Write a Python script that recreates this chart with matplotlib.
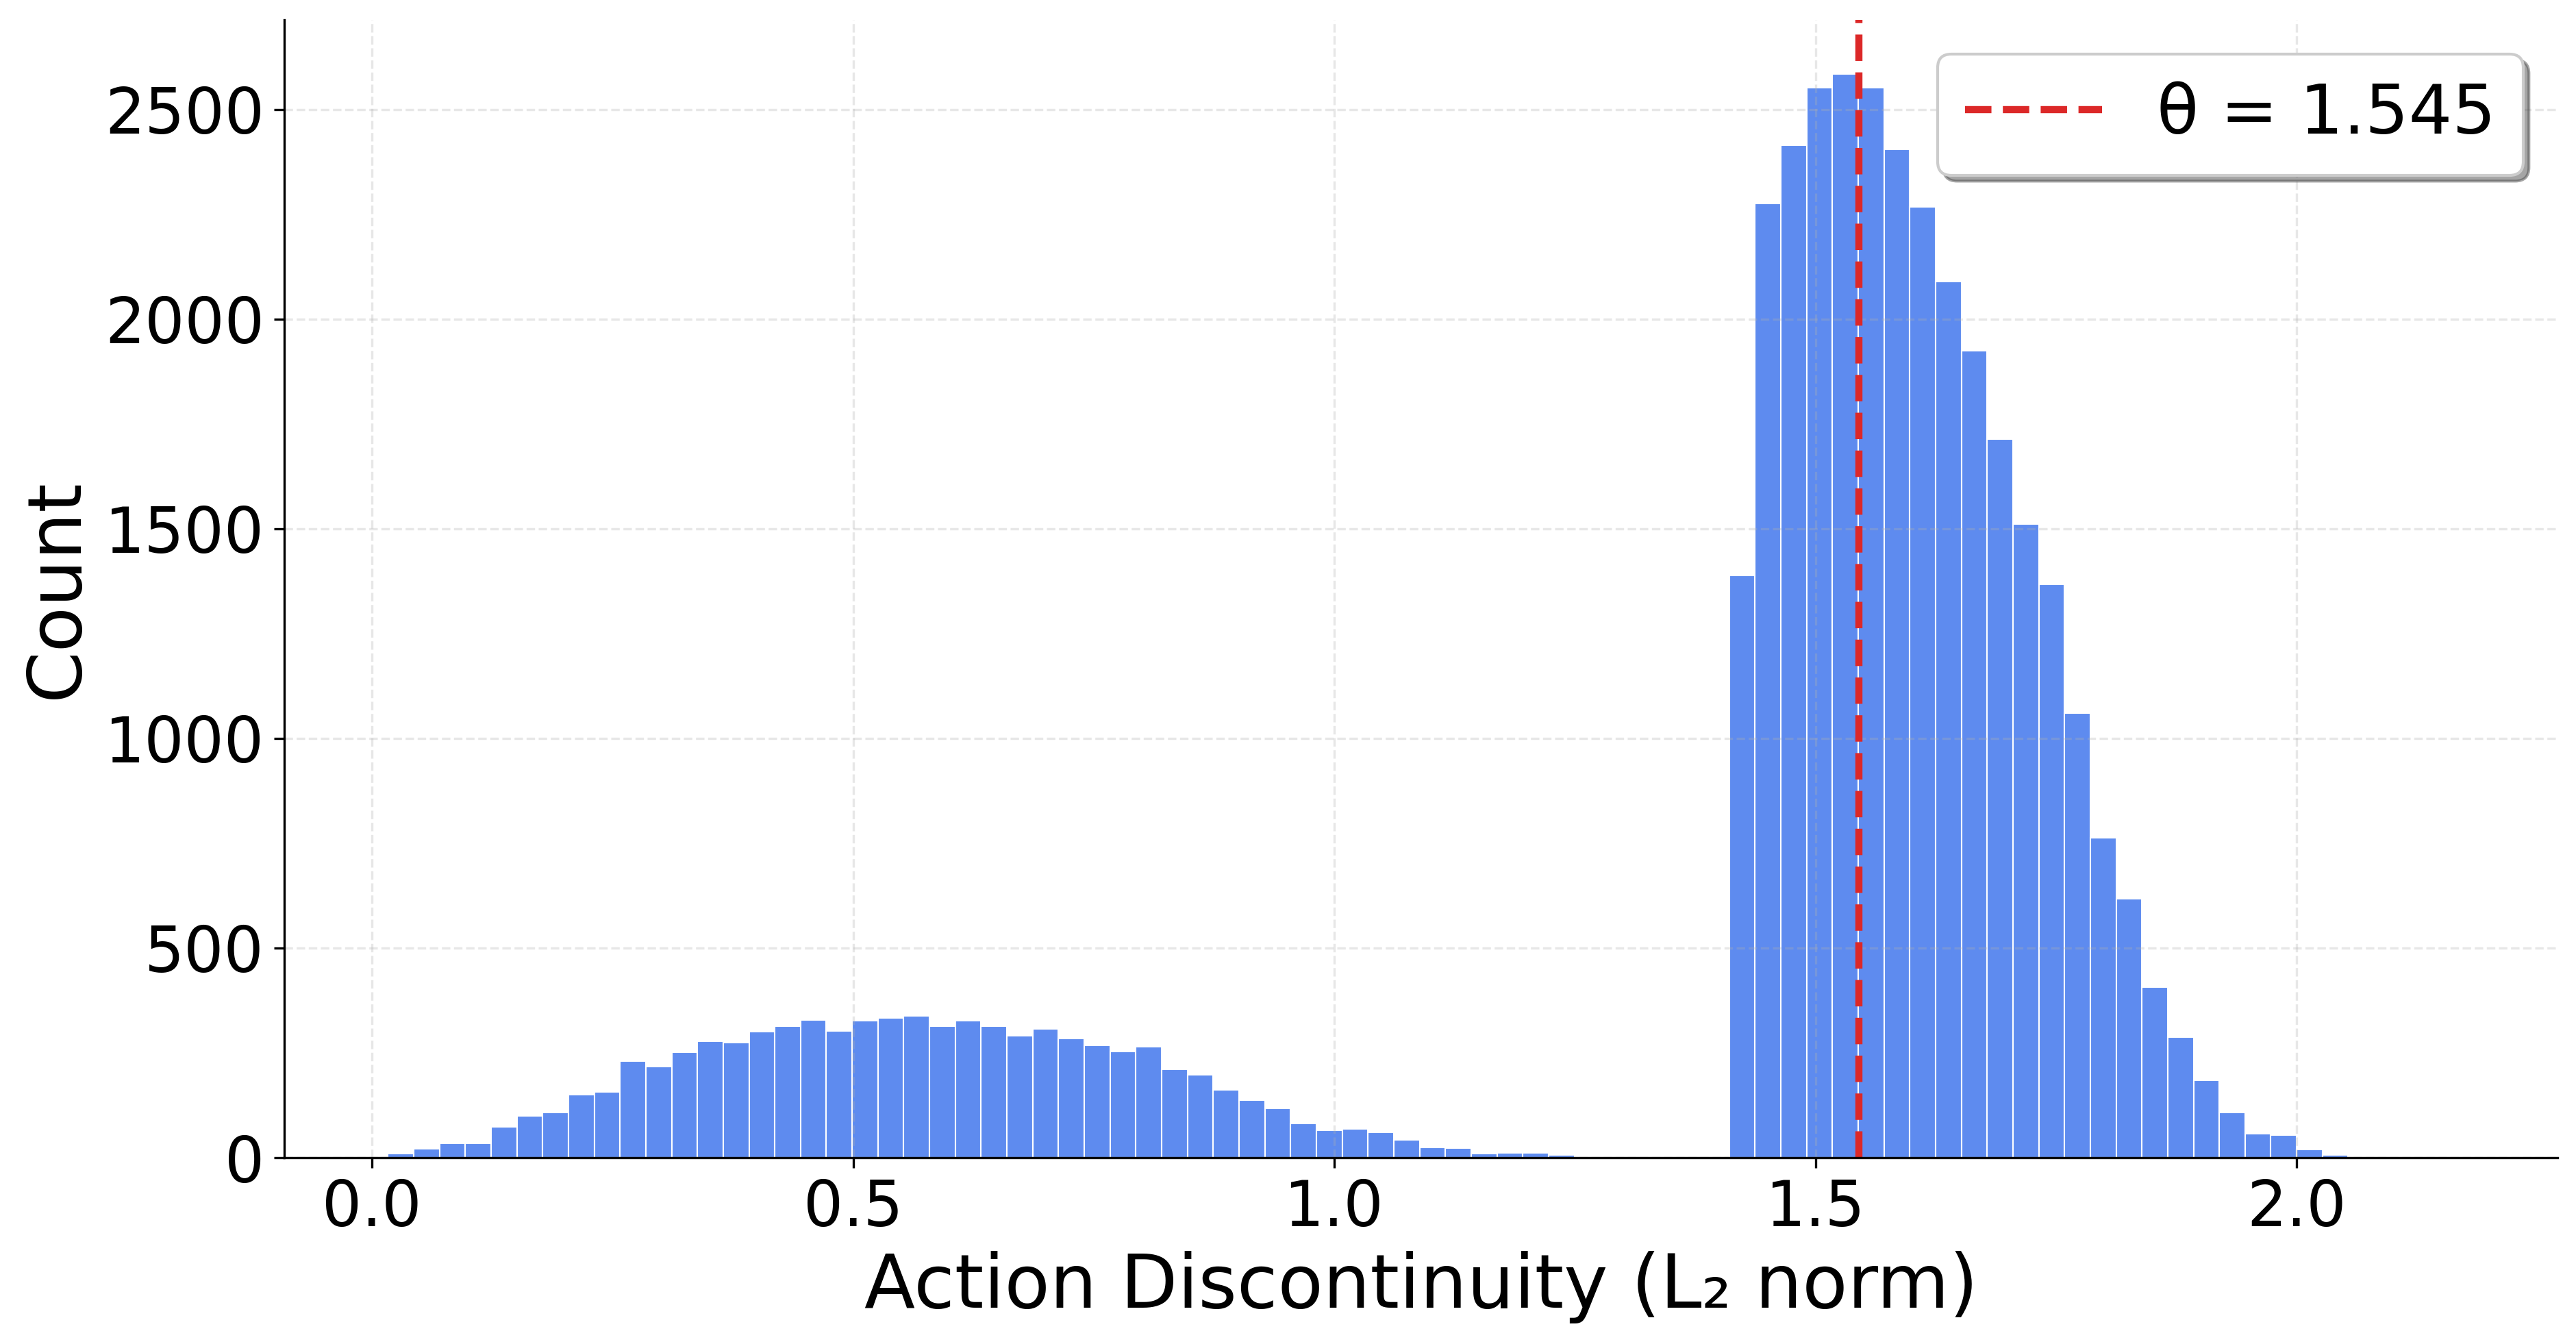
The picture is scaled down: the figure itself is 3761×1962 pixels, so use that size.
#! /usr/bin/env python3

# Histogram of action discontinuity with the threshold line.

import matplotlib
matplotlib.use('Agg')
import matplotlib.pyplot as plt
import numpy as np

# histogram bins
bin_lo = 0.0165
bin_hi = 2.0536
n_bins = 76

low_mode = [10, 22, 35, 35, 74, 100, 108, 151, 157, 231, 218, 252, 278, 275,
            301, 314, 329, 303, 326, 334, 339, 314, 326, 314, 291, 308, 285,
            268, 254, 265, 211, 197, 162, 138, 118, 82, 66, 69, 61, 43, 25,
            23, 10, 12, 12, 7]
gap = [0, 0, 0, 0, 0, 0]
high_mode = [1389, 2276, 2414, 2551, 2584, 2552, 2404, 2267, 2090, 1925,
             1713, 1511, 1367, 1061, 763, 618, 407, 287, 184, 108, 57, 54,
             20, 7]
counts = low_mode + gap + high_mode

theta = 1.545
x_limits = (-0.091, 2.271)


def main():
    edges = np.linspace(bin_lo, bin_hi, n_bins + 1)

    fig = plt.figure(figsize=(3761 / 300, 1962 / 300), dpi=300)
    ax = fig.add_axes([0.1104, 0.1386, 0.9928 - 0.1104, 0.9852 - 0.1386])

    ax.hist(edges[:-1], bins=edges, weights=counts, color='#5e8bef',
            edgecolor='white', linewidth=0.5)
    ax.axvline(theta, color='#dc2828', linestyle='--', linewidth=2.5,
               label=f'θ = {theta}')

    ax.set_xlim(*x_limits)
    ax.grid(True, linestyle='--', alpha=0.3)
    ax.spines['top'].set_visible(False)
    ax.spines['right'].set_visible(False)
    ax.tick_params(labelsize=22)

    ax.set_xlabel('Action Discontinuity (L₂ norm)', fontsize=26)
    ax.set_ylabel('Count', fontsize=26)
    ax.legend(loc='upper right', fontsize=24, shadow=True, fancybox=True,
              framealpha=1)

    fig.savefig('out.png', dpi=300)


if __name__ == "__main__":
    main()
